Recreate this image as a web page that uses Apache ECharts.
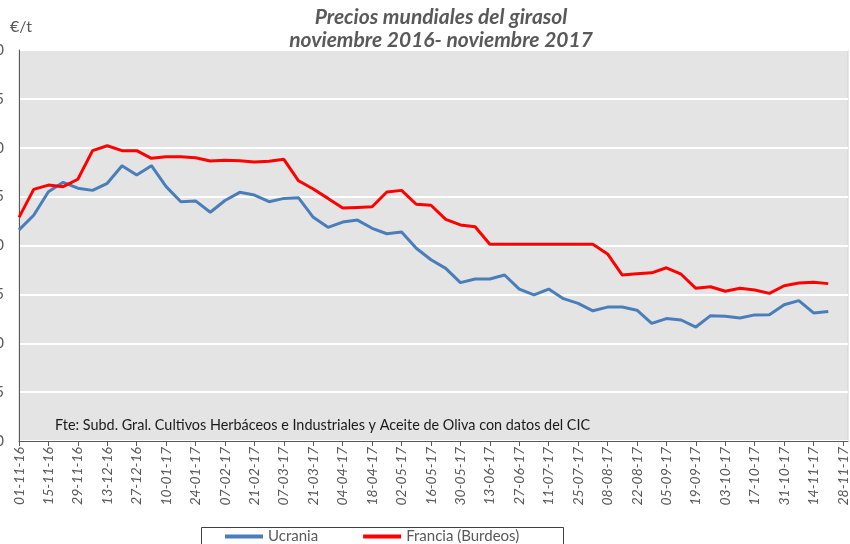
<!DOCTYPE html>
<html>
<head>
<meta charset="utf-8">
<script src="https://cdn.jsdelivr.net/npm/echarts@6/dist/echarts.min.js"></script>
<style>
  html, body { margin: 0; padding: 0; background: #ffffff; }
  #chart { width: 850px; height: 544px; }
</style>
</head>
<body>
<div id="chart"></div>
<script>
// Weekly sunflower seed prices (€/t), one value per week starting 01-11-16
const ucrania = [
  358, 365.5, 377.5, 382.3, 379.3, 378.2, 381.8, 390.8, 386.1, 390.8,
  380.1, 372.4, 372.8, 367, 373, 377.2, 375.8, 372.4, 374.1, 374.4,
  364.4, 359.3, 362, 363, 358.8, 356, 356.9, 348.6, 342.7, 338.3,
  331, 332.9, 332.9, 334.9, 327.7, 324.7, 327.7, 322.8, 320.4, 316.6,
  318.5, 318.5, 316.9, 310.2, 312.6, 311.9, 308.3, 314.1, 313.8, 312.9,
  314.5, 314.6, 319.7, 321.8, 315.5, 316.3
];
const francia = [
  364.4, 378.7, 380.9, 380.1, 383.9, 398.5, 401, 398.5, 398.5, 394.6,
  395.4, 395.4, 394.9, 393.2, 393.6, 393.4, 392.7, 393.1, 394.1, 383.1,
  378.9, 374.1, 369.2, 369.5, 369.8, 377.4, 378.2, 371.1, 370.6, 363.4,
  360.5, 359.6, 350.6, 350.6, 350.6, 350.6, 350.6, 350.6, 350.6, 350.6,
  345.7, 334.9, 335.5, 336, 338.6, 335.3, 328.1, 328.9, 326.6, 328.1,
  327.2, 325.5, 329.4, 330.8, 331.2, 330.5
];
// Fortnightly date labels along the horizontal axis
const tickLabels = [
  '01-11-16', '15-11-16', '29-11-16', '13-12-16', '27-12-16', '10-01-17',
  '24-01-17', '07-02-17', '21-02-17', '07-03-17', '21-03-17', '04-04-17',
  '18-04-17', '02-05-17', '16-05-17', '30-05-17', '13-06-17', '27-06-17',
  '11-07-17', '25-07-17', '08-08-17', '22-08-17', '05-09-17', '19-09-17',
  '03-10-17', '17-10-17', '31-10-17', '14-11-17', '28-11-17'
];
const seriesNames = ['Ucrania', 'Francia (Burdeos)'];

const tickWeeks = tickLabels.map((_, k) => k * 2);
const FONT = 'Lato';
const GREY = '#595959';

const chart = echarts.init(document.getElementById('chart'));
chart.setOption({
  animation: false,
  backgroundColor: '#ffffff',
  title: {
    text: 'Precios mundiales del girasol\nnoviembre 2016- noviembre 2017',
    left: 441,
    textAlign: 'center',
    top: 6,
    padding: 0,
    textStyle: {
      fontFamily: FONT, fontSize: 21, fontWeight: 'bold', fontStyle: 'italic',
      color: GREY, lineHeight: 23
    }
  },
  grid: {
    left: 19, top: 50, right: 2, bottom: 103,
    outerBoundsMode: 'none', containLabel: false,
    show: true, backgroundColor: '#e4e4e4', borderColor: '#d0d0d0', borderWidth: 1
  },
  legend: {
    data: seriesNames,
    left: 225, top: 529, padding: 0,
    icon: 'rect', itemWidth: 38, itemHeight: 4, itemGap: 45,
    textStyle: { fontFamily: FONT, fontSize: 15, color: GREY }
  },
  xAxis: {
    type: 'value', min: 0, max: 56.34,
    axisLine: { show: true, lineStyle: { color: GREY, width: 1 } },
    axisTick: { show: true, length: 5, customValues: tickWeeks, lineStyle: { color: GREY } },
    splitLine: { show: false },
    axisLabel: {
      customValues: tickWeeks,
      rotate: 90, margin: 6,
      fontFamily: FONT, fontSize: 14, fontStyle: 'italic', color: GREY,
      formatter: v => tickLabels[Math.round(v / 2)]
    }
  },
  yAxis: {
    type: 'value', min: 250, max: 450, interval: 25,
    axisLine: { show: true, lineStyle: { color: GREY, width: 1 } },
    axisTick: { show: false },
    splitLine: { lineStyle: { color: '#ffffff', width: 2 } },
    axisLabel: { margin: 15, fontFamily: FONT, fontSize: 15, color: GREY }
  },
  graphic: [
    {
      type: 'text', left: 10, top: 19,
      style: { text: '€/t', font: '16px Lato', fill: GREY }
    },
    {
      type: 'text', left: 55, top: 418,
      style: {
        text: 'Fte: Subd. Gral. Cultivos Herbáceos e Industriales y Aceite de Oliva con datos del CIC',
        font: '14.4px Lato', fill: '#1a1a1a'
      }
    },
    {
      type: 'rect', left: 199, top: 525, z: -1,
      shape: { width: 362, height: 40 },
      style: { fill: 'none', stroke: '#404040', lineWidth: 1 }
    }
  ],
  series: [
    {
      name: seriesNames[0], type: 'line', symbol: 'none',
      data: ucrania.map((v, i) => [i, v]),
      lineStyle: { color: '#4a7ebb', width: 3 },
      itemStyle: { color: '#4a7ebb' }
    },
    {
      name: seriesNames[1], type: 'line', symbol: 'none',
      data: francia.map((v, i) => [i, v]),
      lineStyle: { color: '#ff0000', width: 3 },
      itemStyle: { color: '#ff0000' }
    }
  ]
});
</script>
</body>
</html>
